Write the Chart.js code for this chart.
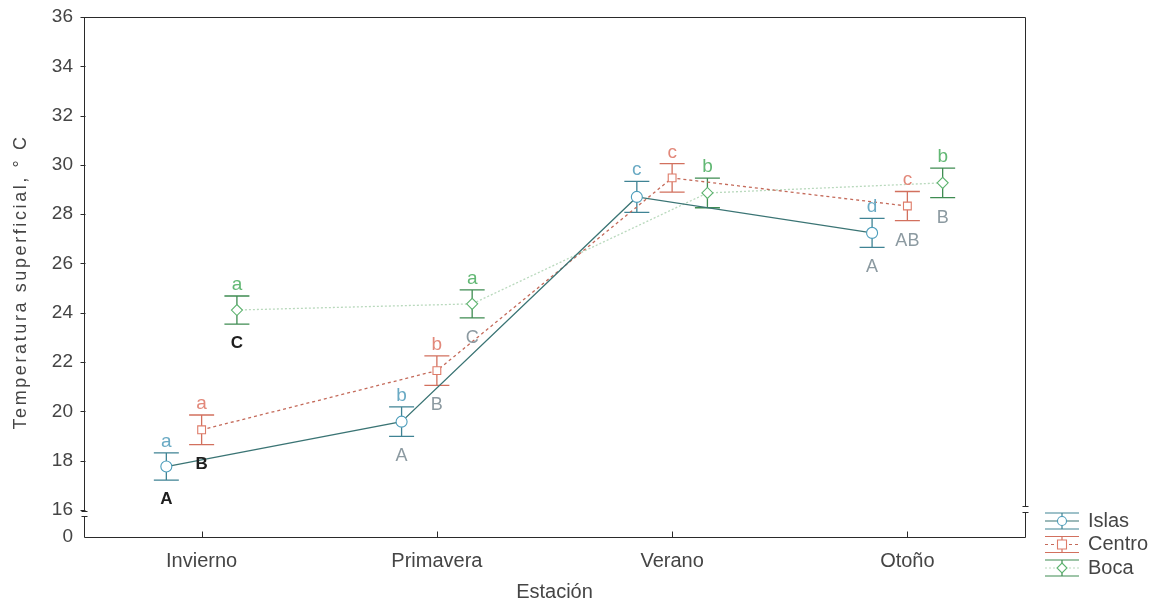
<!DOCTYPE html>
<html>
<head>
<meta charset="utf-8">
<script src="https://cdn.jsdelivr.net/npm/chart.js@4.4.1/dist/chart.umd.min.js"></script>
<style>
  html, body { margin: 0; padding: 0; background: #ffffff; }
  #wrap { width: 1153px; height: 603px; }
</style>
</head>
<body>
<div id="wrap"><canvas id="chart" width="1153" height="603"></canvas></div>
<script>
// Temperatura superficial media (°C) por estación y zona, con intervalo de error
const categories = ['Invierno', 'Primavera', 'Verano', 'Otoño'];

const islas     = [17.76, 19.58, 28.70, 27.24];
const islasErr  = [0.55, 0.60, 0.63, 0.59];
const centro    = [19.25, 21.65, 29.47, 28.33];
const centroErr = [0.60, 0.60, 0.58, 0.59];
const boca      = [24.11, 24.36, 28.86, 29.27];
const bocaErr   = [0.57, 0.57, 0.60, 0.60];

// letras de comparación: minúsculas sobre la barra, mayúsculas debajo
const islasLower  = ['a', 'b', 'c', 'd'];
const centroLower = ['a', 'b', 'c', 'c'];
const bocaLower   = ['a', 'a', 'b', 'b'];
const islasUpper  = ['A', 'A', '', 'A'];
const centroUpper = ['B', 'B', '', 'AB'];
const bocaUpper   = ['C', 'C', '', 'B'];

const yTicks = [16, 18, 20, 22, 24, 26, 28, 30, 32, 34, 36];
const yBreakLabel = '0';
const yMin = 14.9;   // tramo bajo el corte del eje, rotulado "0"
const yMax = 36;

const FONT = "'Liberation Sans', Arial, sans-serif";
const TEXT = '#454545';

const series = [
  { name: 'Islas',  values: islas,  err: islasErr,  lower: islasLower,  upper: islasUpper,
    dodge: -0.15, style: 'circle',  mark: '#4c9dbb', bar: '#3f8394', line: '#3a7474', dash: [],
    text: '#6aaac4' },
  { name: 'Centro', values: centro, err: centroErr, lower: centroLower, upper: centroUpper,
    dodge: 0, style: 'rect',    mark: '#de7b68', bar: '#d2705e', line: '#c46a5a', dash: [3, 3],
    text: '#e2887a' },
  { name: 'Boca',   values: boca,   err: bocaErr,   lower: bocaLower,   upper: bocaUpper,
    dodge: 0.15, style: 'rectRot', mark: '#5db36f', bar: '#3f8c52', line: '#b9d9bd', dash: [2, 2],
    text: '#62b874' }
];

const datasets = series.map(s => ({
  label: s.name,
  data: s.values.map((v, i) => ({ x: i + s.dodge, y: v })),
  borderColor: s.line,
  borderWidth: 1.3,
  borderDash: s.dash,
  pointStyle: s.style,
  pointRadius: 5.5,
  pointBorderWidth: 1.1,
  pointBorderColor: s.mark,
  pointBackgroundColor: '#ffffff',
  tension: 0,
  fill: false
}));

// barras de error detrás de los marcadores
const errorBars = {
  id: 'errorBars',
  beforeDatasetsDraw(chart) {
    const { ctx, scales: { x, y } } = chart;
    ctx.save();
    ctx.lineWidth = 1.3;
    series.forEach(s => {
      ctx.strokeStyle = s.bar;
      s.values.forEach((v, i) => {
        const px = x.getPixelForValue(i + s.dodge);
        const top = y.getPixelForValue(v + s.err[i]);
        const bot = y.getPixelForValue(v - s.err[i]);
        ctx.beginPath();
        ctx.moveTo(px, top); ctx.lineTo(px, bot);
        ctx.moveTo(px - 12.5, top); ctx.lineTo(px + 12.5, top);
        ctx.moveTo(px - 12.5, bot); ctx.lineTo(px + 12.5, bot);
        ctx.stroke();
      });
    });
    ctx.restore();
  }
};

// letras de significación
const letters = {
  id: 'letters',
  afterDatasetsDraw(chart) {
    const { ctx, scales: { x, y } } = chart;
    ctx.save();
    ctx.textAlign = 'center';
    series.forEach(s => {
      s.values.forEach((v, i) => {
        const px = x.getPixelForValue(i + s.dodge);
        const top = y.getPixelForValue(v + s.err[i]);
        const bot = y.getPixelForValue(v - s.err[i]);
        if (s.lower[i]) {
          ctx.font = '19px ' + FONT;
          ctx.fillStyle = s.text;
          ctx.textBaseline = 'alphabetic';
          ctx.fillText(s.lower[i], px, top - 6);
        }
        if (s.upper[i]) {
          const strong = i === 0;
          ctx.font = (strong ? 'bold 17px ' : '18px ') + FONT;
          ctx.fillStyle = strong ? '#1e1e1e' : '#8c9aa1';
          ctx.textBaseline = 'top';
          ctx.fillText(s.upper[i], px, bot + 11);
        }
      });
    });
    ctx.restore();
  }
};

// marco, marcas de eje, corte del eje, títulos y leyenda
const frame = {
  id: 'frame',
  afterDraw(chart) {
    const { ctx, chartArea: a, scales: { x, y } } = chart;
    ctx.save();
    ctx.strokeStyle = '#2a2a2a';
    ctx.lineWidth = 1;
    const L = Math.round(a.left) + 0.5, R = Math.round(a.right) + 0.5;
    const T = Math.round(a.top) + 0.5, B = Math.round(a.bottom) + 0.5;
    const y16 = Math.round(y.getPixelForValue(16)) + 0.5;

    ctx.beginPath();
    // eje izquierdo con corte
    ctx.moveTo(L, T); ctx.lineTo(L, y16 + 1);
    ctx.moveTo(L - 3, y16 + 1); ctx.lineTo(L + 3, y16 + 1);
    ctx.moveTo(L - 3, y16 + 6); ctx.lineTo(L + 3, y16 + 6);
    ctx.moveTo(L, y16 + 6); ctx.lineTo(L, B);
    // eje inferior
    ctx.lineTo(R, B);
    // borde derecho con corte
    ctx.moveTo(R, B); ctx.lineTo(R, y16 + 2);
    ctx.moveTo(R - 3, y16 + 2); ctx.lineTo(R + 3, y16 + 2);
    ctx.moveTo(R - 3, y16 - 4); ctx.lineTo(R + 3, y16 - 4);
    ctx.moveTo(R, y16 - 4); ctx.lineTo(R, T);
    // borde superior
    ctx.lineTo(L, T);
    // marcas del eje Y
    yTicks.forEach(v => {
      const py = Math.round(y.getPixelForValue(v)) + 0.5;
      ctx.moveTo(L - 4, py); ctx.lineTo(L + 1, py);
    });
    // marcas del eje X
    categories.forEach((c, i) => {
      const px = Math.round(x.getPixelForValue(i)) + 0.5;
      ctx.moveTo(px, B); ctx.lineTo(px, B - 6);
    });
    ctx.stroke();

    // títulos de ejes
    ctx.fillStyle = TEXT;
    ctx.textAlign = 'center';
    ctx.textBaseline = 'middle';
    ctx.font = '20px ' + FONT;
    ctx.fillText('Estación', (a.left + a.right) / 2, 592);
    ctx.save();
    ctx.translate(21, 282);
    ctx.rotate(-Math.PI / 2);
    ctx.font = '18px ' + FONT;
    ctx.letterSpacing = '2.6px';
    ctx.fillText('Temperatura superficial, ° C', 0, 0);
    ctx.restore();

    // leyenda
    const cx = 1062, x0 = 1045, x1 = 1079;
    series.forEach((s, k) => {
      const cy = 521 + k * 23.5;
      ctx.strokeStyle = s.bar;
      ctx.lineWidth = 1.2;
      ctx.setLineDash([]);
      ctx.beginPath();
      ctx.moveTo(x0, cy - 8); ctx.lineTo(x1, cy - 8);
      ctx.moveTo(x0, cy + 8); ctx.lineTo(x1, cy + 8);
      ctx.moveTo(cx, cy - 8); ctx.lineTo(cx, cy + 8);
      ctx.stroke();
      ctx.strokeStyle = s.line;
      ctx.setLineDash(s.dash);
      ctx.beginPath();
      ctx.moveTo(x0, cy); ctx.lineTo(x1, cy);
      ctx.stroke();
      ctx.setLineDash([]);
      ctx.fillStyle = '#ffffff';
      ctx.strokeStyle = s.mark;
      ctx.lineWidth = 1.1;
      ctx.beginPath();
      if (s.style === 'circle') {
        ctx.arc(cx, cy, 4.5, 0, Math.PI * 2);
      } else if (s.style === 'rect') {
        ctx.rect(cx - 4.5, cy - 4.5, 9, 9);
      } else {
        ctx.moveTo(cx, cy - 5); ctx.lineTo(cx + 5, cy); ctx.lineTo(cx, cy + 5); ctx.lineTo(cx - 5, cy); ctx.closePath();
      }
      ctx.fill(); ctx.stroke();
      ctx.fillStyle = TEXT;
      ctx.font = '20px ' + FONT;
      ctx.textAlign = 'left';
      ctx.textBaseline = 'middle';
      ctx.fillText(s.name, 1088, cy);
    });
    ctx.restore();
  }
};

// sin relleno extra por rótulos: el área de trazado queda fija
const noLabelPadding = sc => {
  sc.paddingTop = 0; sc.paddingBottom = 0; sc.paddingLeft = 0; sc.paddingRight = 0;
};

new Chart(document.getElementById('chart'), {
  type: 'line',
  data: { datasets },
  options: {
    responsive: false,
    devicePixelRatio: 1,
    animation: false,
    layout: { padding: { left: 0, right: 128, top: 17, bottom: 0 } },
    plugins: { legend: { display: false }, tooltip: { enabled: false } },
    scales: {
      x: {
        type: 'linear',
        min: -0.5,
        max: 3.5,
        grid: { display: false, drawTicks: false },
        border: { display: false },
        afterBuildTicks: sc => { sc.ticks = categories.map((c, i) => ({ value: i })); },
        afterFit: sc => { sc.height = 66; noLabelPadding(sc); },
        ticks: {
          padding: 12,
          maxRotation: 0,
          autoSkip: false,
          color: TEXT,
          font: { family: FONT, size: 20 },
          callback: v => categories[v] ?? ''
        }
      },
      y: {
        type: 'linear',
        min: yMin,
        max: yMax,
        grid: { display: false, drawTicks: false },
        border: { display: false },
        afterBuildTicks: sc => { sc.ticks = [yMin, ...yTicks].map(v => ({ value: v })); },
        afterFit: sc => { sc.width = 84; noLabelPadding(sc); },
        ticks: {
          padding: 11,
          autoSkip: false,
          color: TEXT,
          font: { family: FONT, size: 19 },
          callback: v => (v === yMin ? yBreakLabel : String(v))
        }
      }
    }
  },
  plugins: [errorBars, letters, frame]
});
</script>
</body>
</html>
